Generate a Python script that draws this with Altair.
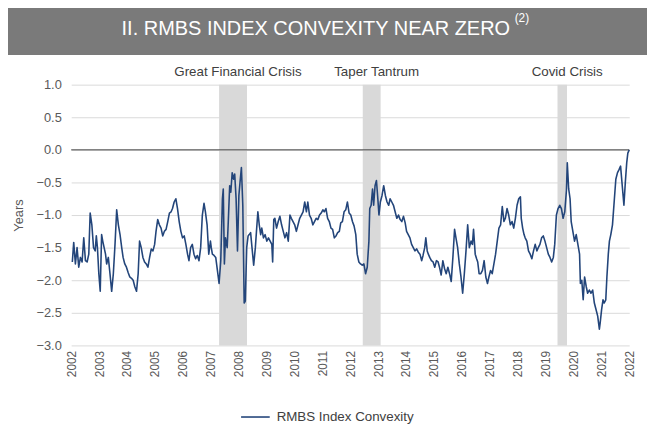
import altair as alt
import pandas as pd

# ---------------- data ----------------
years = [
    2002.04, 2002.09, 2002.15, 2002.21, 2002.27, 2002.33, 2002.39, 2002.45, 2002.51, 2002.57,
    2002.63, 2002.68, 2002.74, 2002.80, 2002.86, 2002.90, 2002.94, 2002.99, 2003.04, 2003.09,
    2003.13, 2003.18, 2003.23, 2003.27, 2003.33, 2003.39, 2003.45, 2003.51, 2003.57, 2003.63,
    2003.69, 2003.75, 2003.81, 2003.86, 2003.92, 2003.98, 2004.04, 2004.10, 2004.16, 2004.22,
    2004.28, 2004.34, 2004.40, 2004.45, 2004.51, 2004.57, 2004.63, 2004.69, 2004.75, 2004.81,
    2004.87, 2004.93, 2004.99, 2005.04, 2005.10, 2005.16, 2005.22, 2005.28, 2005.34, 2005.40,
    2005.46, 2005.52, 2005.58, 2005.63, 2005.69, 2005.75, 2005.81, 2005.87, 2005.93, 2005.99,
    2006.05, 2006.11, 2006.17, 2006.22, 2006.28, 2006.34, 2006.40, 2006.46, 2006.52, 2006.58,
    2006.64, 2006.70, 2006.76, 2006.81, 2006.87, 2006.93, 2006.99,
    2007.02, 2007.06, 2007.12, 2007.18, 2007.24, 2007.30, 2007.36, 2007.42, 2007.45, 2007.49,
    2007.53, 2007.59, 2007.63, 2007.68, 2007.72, 2007.77, 2007.82, 2007.86, 2007.91, 2007.96,
    2008.01, 2008.05, 2008.10, 2008.15, 2008.20, 2008.24, 2008.29, 2008.34, 2008.38, 2008.43,
    2008.48, 2008.54, 2008.60, 2008.64, 2008.69, 2008.74, 2008.79, 2008.83, 2008.89, 2008.95,
    2009.01, 2009.07, 2009.13, 2009.19, 2009.22, 2009.26, 2009.30, 2009.36, 2009.42, 2009.48,
    2009.54, 2009.60, 2009.66, 2009.72, 2009.78, 2009.84, 2009.89, 2009.95, 2010.01, 2010.07,
    2010.13, 2010.19, 2010.25, 2010.31, 2010.37, 2010.43, 2010.48, 2010.54, 2010.60, 2010.66,
    2010.72, 2010.78, 2010.84, 2010.90, 2010.96, 2011.02, 2011.07, 2011.13, 2011.19, 2011.25,
    2011.31, 2011.37, 2011.43, 2011.49, 2011.55, 2011.61, 2011.66, 2011.72, 2011.78, 2011.84,
    2011.90, 2011.96, 2012.02, 2012.08, 2012.14, 2012.20, 2012.25, 2012.31, 2012.37, 2012.43,
    2012.49, 2012.55, 2012.61, 2012.67, 2012.70, 2012.75, 2012.80, 2012.84, 2012.89, 2012.94,
    2012.99, 2013.03, 2013.08, 2013.14, 2013.20, 2013.26, 2013.32, 2013.38, 2013.43, 2013.49,
    2013.55, 2013.61, 2013.67, 2013.73, 2013.79, 2013.85, 2013.91, 2013.97, 2014.02, 2014.08,
    2014.14, 2014.20, 2014.26, 2014.32, 2014.38, 2014.44, 2014.50, 2014.56, 2014.61, 2014.67,
    2014.71, 2014.76, 2014.80, 2014.85, 2014.91, 2014.97, 2015.03, 2015.09, 2015.15, 2015.20,
    2015.26, 2015.32, 2015.38, 2015.44, 2015.50, 2015.56, 2015.62, 2015.68, 2015.74, 2015.79,
    2015.85, 2015.91, 2015.97, 2016.03, 2016.09, 2016.15, 2016.21, 2016.27, 2016.33, 2016.38,
    2016.42, 2016.48, 2016.53, 2016.57, 2016.62, 2016.68, 2016.74, 2016.80,
    2016.86, 2016.92, 2016.97, 2017.03, 2017.09, 2017.15, 2017.21, 2017.27, 2017.33, 2017.39,
    2017.45, 2017.51, 2017.56, 2017.62, 2017.68, 2017.74, 2017.80, 2017.86, 2017.92, 2017.98,
    2018.04, 2018.10, 2018.13, 2018.18, 2018.23, 2018.27, 2018.33, 2018.39, 2018.45, 2018.51,
    2018.57, 2018.63, 2018.69, 2018.74, 2018.80, 2018.86, 2018.92, 2018.98, 2019.04, 2019.10,
    2019.16, 2019.22, 2019.28, 2019.33, 2019.39, 2019.45, 2019.51, 2019.57, 2019.63, 2019.69,
    2019.75, 2019.78, 2019.83, 2019.88, 2019.92, 2019.98, 2020.04, 2020.10, 2020.16, 2020.22,
    2020.25, 2020.30, 2020.35, 2020.40, 2020.46, 2020.51, 2020.57, 2020.63, 2020.69, 2020.75,
    2020.81, 2020.87, 2020.93, 2020.96, 2021.01, 2021.06, 2021.10, 2021.16, 2021.20, 2021.25,
    2021.29, 2021.34, 2021.40, 2021.46, 2021.52, 2021.58, 2021.64, 2021.69, 2021.75, 2021.81,
    2021.86, 2021.91, 2021.95, 2022.00,
]

convexity = [
    -1.72, -1.42, -1.75, -1.50, -1.80, -1.65, -1.72, -1.35, -1.70, -1.72,
    -1.60, -0.97, -1.15, -1.50, -1.55, -1.32, -1.50, -1.90, -2.17, -1.30,
    -1.40, -1.50, -1.60, -1.75, -1.65, -1.90, -2.17, -1.90, -1.45, -0.92,
    -1.15, -1.30, -1.50, -1.65, -1.75, -1.80, -1.88, -1.95, -1.97, -2.00,
    -2.10, -2.17, -1.90, -1.40, -1.50, -1.65, -1.72, -1.75, -1.80, -1.65,
    -1.52, -1.55, -1.45, -1.25, -1.07, -1.15, -1.20, -1.32, -1.25, -1.22,
    -1.10, -0.97, -0.95, -0.90, -0.80, -0.75, -0.90, -1.10, -1.25, -1.35,
    -1.32, -1.45, -1.60, -1.70, -1.50, -1.45, -1.60, -1.67, -1.62, -1.70,
    -1.50, -1.00, -0.82, -0.95, -1.15, -1.60, -1.40,
    -1.50, -1.60, -1.62, -1.65, -1.85, -2.05, -1.70, -0.75, -0.60, -1.75,
    -1.35, -1.50, -1.10, -0.55, -0.65, -0.35, -0.45, -0.37, -0.75, -1.55,
    -0.70, -0.50, -0.27, -0.85, -2.35, -2.32, -1.50, -1.32, -1.30, -1.27,
    -1.50, -1.77, -1.50, -1.25, -0.95, -1.15, -1.30, -1.20, -1.35, -1.30,
    -1.40, -1.35, -1.40, -1.45, -1.72, -1.07, -1.05, -1.20, -1.10, -1.02,
    -1.15, -1.25, -1.35, -1.27, -1.40, -1.00, -1.05, -1.10, -1.15, -1.25,
    -1.15, -1.05, -1.00, -0.95, -0.80, -0.95, -0.80, -1.00, -1.05, -1.15,
    -1.10, -1.05, -1.07, -1.00, -0.97, -0.92, -0.95, -0.90, -1.05, -1.10,
    -1.20, -1.22, -1.35, -1.32, -1.27, -1.25, -1.12, -1.10, -0.95, -0.92,
    -0.80, -0.97, -1.00, -1.10, -1.17, -1.30, -1.60, -1.72, -1.75, -1.77,
    -1.75, -1.90, -1.80, -1.40, -0.90, -0.85, -0.60, -0.85, -0.55, -0.47,
    -0.75, -1.00, -0.80, -0.70, -0.55, -0.70, -0.80, -0.85, -0.75, -0.80,
    -0.85, -0.95, -1.05, -1.00, -1.07, -1.10, -1.02, -1.12, -1.25, -1.30,
    -1.35, -1.45, -1.50, -1.55, -1.52, -1.57, -1.60, -1.70, -1.62, -1.50,
    -1.35, -1.55, -1.60, -1.65, -1.70, -1.72, -1.80, -1.70, -1.72, -1.80,
    -1.92, -1.70, -1.82, -1.90, -1.80, -1.90, -2.02, -1.65, -1.22, -1.35,
    -1.50, -1.75, -1.95, -2.20, -1.90, -1.55, -1.15, -1.50, -1.40, -1.45,
    -1.22, -1.60, -1.67, -1.72, -1.90, -1.90, -1.85, -1.70,
    -1.95, -2.05, -1.95, -1.85, -1.90, -1.75, -1.60, -1.40, -1.20, -1.15,
    -0.87, -1.10, -1.05, -0.90, -1.00, -1.15, -1.10, -1.20, -1.05, -0.85,
    -0.75, -0.72, -1.05, -1.20, -1.30, -1.35, -1.40, -1.55, -1.60, -1.67,
    -1.55, -1.45, -1.55, -1.50, -1.45, -1.35, -1.32, -1.40, -1.50, -1.60,
    -1.65, -1.72, -1.65, -1.45, -1.00, -0.90, -0.85, -0.90, -1.05, -0.95,
    -0.62, -0.20, -0.60, -0.75, -1.10, -1.25, -1.40, -1.30, -1.45, -1.60,
    -2.05, -2.00, -2.30, -1.95, -2.10, -2.20, -2.15, -2.20, -2.15, -2.35,
    -2.45, -2.55, -2.75, -2.65, -2.45, -2.30, -2.35, -2.30, -1.95, -1.60,
    -1.40, -1.30, -1.15, -0.80, -0.45, -0.35, -0.30, -0.25, -0.55, -0.85,
    -0.50, -0.20, -0.05, 0.00,
]

series_name = "RMBS Index Convexity"
crisis_names = ["Great Financial Crisis", "Taper Tantrum", "Covid Crisis"]
crisis_start = [2007.30, 2012.45, 2019.43]
crisis_end = [2008.30, 2013.09, 2019.77]
year_ticks = list(range(2002, 2023))
y_ticks = [1.0, 0.5, 0.0, -0.5, -1.0, -1.5, -2.0, -2.5, -3.0]
title_text = "II. RMBS INDEX CONVEXITY NEAR ZERO"
title_note = "(2)"

assert len(years) == len(convexity)

df = pd.DataFrame({"year": years, "conv": convexity, "series": series_name})
crises = pd.DataFrame({
    "name": crisis_names,
    "start": crisis_start,
    "end": crisis_end,
    "mid": [(s + e) / 2 for s, e in zip(crisis_start, crisis_end)],
})
zero_df = pd.DataFrame({"z": [0.0]})
title_df = pd.DataFrame({"t": [title_text], "n": [title_note]})

# ---------------- layout ----------------
W, H = 565, 264
REG = "Liberation Sans, Arial, sans-serif"
GREY_TXT = "#595959"

x_scale = alt.Scale(domain=[2002, 2022], nice=False, zero=False)
y_scale = alt.Scale(domain=[-3, 1], nice=False, zero=False)

x_axis = alt.Axis(values=year_ticks, format="d", labelAngle=-90, labelFontSize=12,
                  labelColor=GREY_TXT, labelFont=REG, ticks=False, domain=False,
                  grid=False, labelPadding=5, title=None, labelOverlap=False)
y_axis = alt.Axis(values=y_ticks, format=".1f", labelFontSize=13, labelColor=GREY_TXT,
                  labelFont=REG, ticks=False, domain=False, grid=True,
                  gridColor="#d9d9d9", gridWidth=1, labelPadding=10,
                  title="Years", titleFontSize=13, titleFontWeight="normal",
                  titleColor=GREY_TXT, titleFont=REG, titlePadding=11)

shade = alt.Chart(crises).mark_rect(color="#d9d9d9").encode(
    x=alt.X("start:Q", scale=x_scale, axis=x_axis),
    x2="end:Q",
    y=alt.value(0),
    y2=alt.value(H),
)

grid_base = alt.Chart(zero_df).mark_rule(opacity=0).encode(
    y=alt.Y("z:Q", scale=y_scale, axis=y_axis)
)

zero_line = alt.Chart(zero_df).mark_rule(color="#404040", strokeWidth=1).encode(
    y=alt.Y("z:Q", scale=y_scale, axis=y_axis)
)

line = alt.Chart(df).mark_line(strokeWidth=1.6, strokeJoin="round").encode(
    x=alt.X("year:Q", scale=x_scale, axis=x_axis),
    y=alt.Y("conv:Q", scale=y_scale, axis=y_axis),
    color=alt.Color(
        "series:N",
        scale=alt.Scale(domain=[series_name], range=["#23457a"]),
        legend=alt.Legend(
            title=None, orient="none", legendX=171, legendY=321,
            symbolType="stroke", symbolSize=841, symbolStrokeWidth=1.6,
            labelFont=REG, labelFontSize=13.5, labelColor="#404040",
            labelOffset=6,
        ),
    ),
)

labels = alt.Chart(crises).mark_text(
    font=REG, fontSize=13.5, color="#404040", baseline="middle", align="center", dx=5
).encode(
    x=alt.X("mid:Q", scale=x_scale, axis=x_axis),
    y=alt.value(-13),
    text="name:N",
)

title_bar = alt.Chart(title_df).mark_rect(color="#7a7a7a").encode(
    x=alt.value(-65), x2=alt.value(W + 20), y=alt.value(-80), y2=alt.value(-30)
)
title_txt = alt.Chart(title_df).mark_text(
    font=REG, fontSize=20.2, color="white", baseline="middle", align="left"
).encode(
    x=alt.value(51), y=alt.value(-56), text="t:N"
)
title_sup = alt.Chart(title_df).mark_text(
    font=REG, fontSize=12, color="white", baseline="middle", align="left"
).encode(
    x=alt.value(449), y=alt.value(-67), text="n:N"
)

chart = alt.layer(
    shade, grid_base, zero_line, line, labels, title_bar, title_txt, title_sup
).properties(
    width=W, height=H,
    padding={"left": 64, "top": 75, "right": 18, "bottom": 82},
    autosize=alt.AutoSizeParams(type="none"),
    background="white",
).configure_view(stroke=None)

chart.save("out.html", embed_options={"renderer": "svg", "actions": False})
